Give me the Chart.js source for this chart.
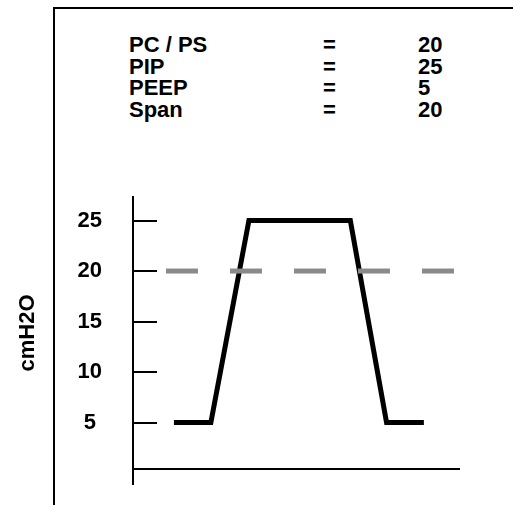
<!DOCTYPE html>
<html>
<head>
<meta charset="utf-8">
<title>Pressure control breath</title>
<script src="https://cdn.jsdelivr.net/npm/chart.js@4.4.1/dist/chart.umd.min.js"></script>
<style>
    html, body { margin: 0; padding: 0; background: #fff; }
    body { width: 513px; height: 505px; position: relative; overflow: hidden; font-family: "Liberation Sans", Arial, sans-serif; }
    .frame { position: absolute; left: 53px; top: 7px; width: 600px; height: 600px; border: 2px solid #000; box-sizing: border-box; }
    .settings { position: absolute; left: 129px; top: 34px; font-weight: bold; font-size: 22px; line-height: 21.7px; color: #000; }
    .settings .row { position: relative; height: 21.7px; width: 340px; }
    .settings span { position: absolute; top: 0; }
    #waveChart { position: absolute; left: 0; top: 0; }
</style>
</head>
<body>
<div class="frame"></div>
<div class="settings" id="settings"></div>
<canvas id="waveChart" width="513" height="505"></canvas>
<script>
// Ventilator settings shown above the waveform
const SETTING_NAMES = ['PC / PS', 'PIP', 'PEEP', 'Span'];
const SETTING_VALUES = [20, 25, 5, 20];

// Pressure waveform (time in arbitrary units, pressure in cmH2O)
const TIME = [1.13, 2.15, 3.2, 6.0, 7.0, 8.03];
const PRESSURE = [5, 5, 25, 25, 5, 5];

// Dashed PC / PS reference level
const PC_LEVEL = 20;
const PC_SPAN = [0.91, 8.87];

const Y_TICKS = [5, 10, 15, 20, 25];
const X_RANGE = [0, 9];
const Y_RANGE = [0.4, 27.33];

document.getElementById('settings').innerHTML = SETTING_NAMES.map((name, i) => `
    <div class="row">
        <span style="left:0">${name}</span>
        <span style="left:194px">=</span>
        <span style="left:289px">${SETTING_VALUES[i]}</span>
    </div>`).join('');

// little tick marks on the inside of the y axis
const innerTicks = {
    id: 'innerTicks',
    afterDraw(chart) {
        const { ctx, chartArea, scales } = chart;
        ctx.save();
        ctx.strokeStyle = '#000';
        ctx.lineWidth = 2;
        Y_TICKS.forEach(v => {
            const y = Math.round(scales.y.getPixelForValue(v));
            ctx.beginPath();
            ctx.moveTo(chartArea.left, y);
            ctx.lineTo(chartArea.left + 24, y);
            ctx.stroke();
        });
        ctx.restore();
    }
};

const font = { family: '"Liberation Sans", Arial, sans-serif', size: 22, weight: 'bold' };

new Chart(document.getElementById('waveChart'), {
    type: 'line',
    data: {
        datasets: [
            {
                data: PC_SPAN.map(x => ({ x, y: PC_LEVEL })),
                borderColor: '#8a8a8a',
                borderWidth: 5,
                borderDash: [32, 32],
                pointRadius: 0,
            },
            {
                data: TIME.map((t, i) => ({ x: t, y: PRESSURE[i] })),
                borderColor: '#000',
                borderWidth: 5,
                borderJoinStyle: 'miter',
                pointRadius: 0,
                tension: 0,
            }
        ]
    },
    options: {
        responsive: false,
        animation: false,
        devicePixelRatio: 1,
        layout: { padding: { top: 197, right: 54, bottom: 20, left: 0 } },
        plugins: { legend: { display: false }, tooltip: { enabled: false } },
        scales: {
            x: {
                type: 'linear',
                min: X_RANGE[0],
                max: X_RANGE[1],
                afterBuildTicks: s => { s.ticks = [{ value: X_RANGE[0] }]; },
                ticks: { display: false },
                grid: { drawOnChartArea: false, drawTicks: true, tickLength: 16, color: '#000', lineWidth: 2 },
                border: { display: true, color: '#000', width: 2 },
            },
            y: {
                type: 'linear',
                min: Y_RANGE[0],
                max: Y_RANGE[1],
                afterBuildTicks: s => { s.ticks = Y_TICKS.map(v => ({ value: v })); },
                // fixed axis width; label padding shouldn't shrink the plot vertically
                afterFit: s => { s.width = 133; s.paddingTop = 0; s.paddingBottom = 0; },
                ticks: { font, color: '#000', padding: 31, crossAlign: 'center' },
                grid: { drawOnChartArea: false, drawTicks: false },
                border: { display: true, color: '#000', width: 2 },
                title: { display: true, text: 'cmH2O', font, color: '#000', padding: { top: 15, bottom: 0 } },
            }
        }
    },
    plugins: [innerTicks]
});
</script>
</body>
</html>
